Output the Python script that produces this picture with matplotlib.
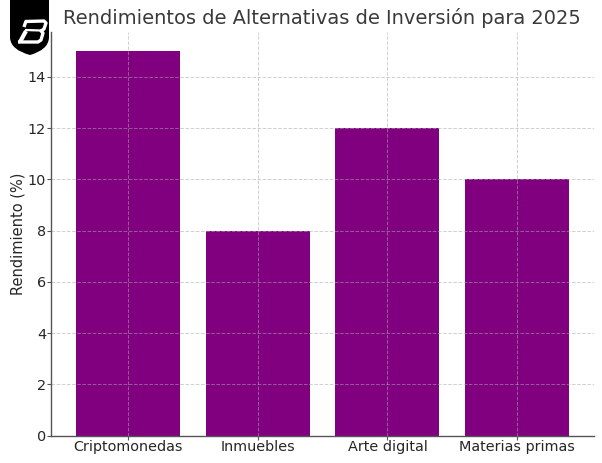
import matplotlib
matplotlib.use("Agg")
import matplotlib.pyplot as plt
from matplotlib.lines import Line2D
from matplotlib.patches import PathPatch
from matplotlib.path import Path

# Values
categories = ["Criptomonedas", "Inmuebles", "Arte digital", "Materias primas"]
rendimientos = [15, 8, 12, 10]

W, H = 602, 463
fig = plt.figure(figsize=(W / 100, H / 100), dpi=100)
ax = fig.add_axes([51 / W, 1 - 435.5 / H, (594 - 51) / W, (435.5 - 32) / H])

ax.bar(categories, rendimientos, width=0.8, color="purple")
ax.set_xlim(-0.59, 3.59)
ax.set_ylim(0, 15.75)
ax.set_ylabel("Rendimiento (%)", fontsize=10.5, color="#262626", labelpad=1.5)
ax.tick_params(labelsize=10.4, labelcolor="#262626", color="#555555", length=3, width=0.8, pad=0.5)
ax.grid(True, linestyle="--", linewidth=0.7, color="#aaaaaa", alpha=0.55)
for side in ["top", "right"]:
    ax.spines[side].set_visible(False)
for side in ["left", "bottom"]:
    ax.spines[side].set_color("#555555")
    ax.spines[side].set_linewidth(1.0)

fig.text(322 / W, 1 - 18 / H, "Rendimientos de Alternativas de Inversión para 2025",
         fontsize=13.95, color="#3a3a3a", ha="center", va="center")


# Logo in the top left corner, given in pixels of the image
def px(points):
    return [(x / W, 1 - y / H) for x, y in points]


def logo_stroke(points, lw=2.1):
    xy = px(points)
    fig.add_artist(Line2D([p[0] for p in xy], [p[1] for p in xy], transform=fig.transFigure,
                          color="white", linewidth=lw, solid_capstyle="butt",
                          solid_joinstyle="round", zorder=6))


shield = Path(
    px([(10, 0), (10, 38), (11, 50), (30, 55), (48, 50), (49, 38), (49, 0), (10, 0)]),
    [Path.MOVETO, Path.LINETO, Path.CURVE3, Path.CURVE3, Path.CURVE3, Path.CURVE3,
     Path.LINETO, Path.CLOSEPOLY],
)
fig.add_artist(PathPatch(shield, transform=fig.transFigure, facecolor="black", edgecolor="none", zorder=5))

# italic B: outer stroke, middle bar and the heavier lower left leg
logo_stroke([(25, 21.5), (44, 21), (46, 23), (44, 29), (41, 31), (43, 33), (41, 40), (38, 42), (18, 42)], lw=2.4)
logo_stroke([(26, 21), (24, 27)], lw=2.4)
logo_stroke([(25, 30), (41, 30.5)], lw=1.6)
logo_stroke([(26, 31), (20, 42)], lw=3.0)

fig.savefig("out.png", dpi=100)
